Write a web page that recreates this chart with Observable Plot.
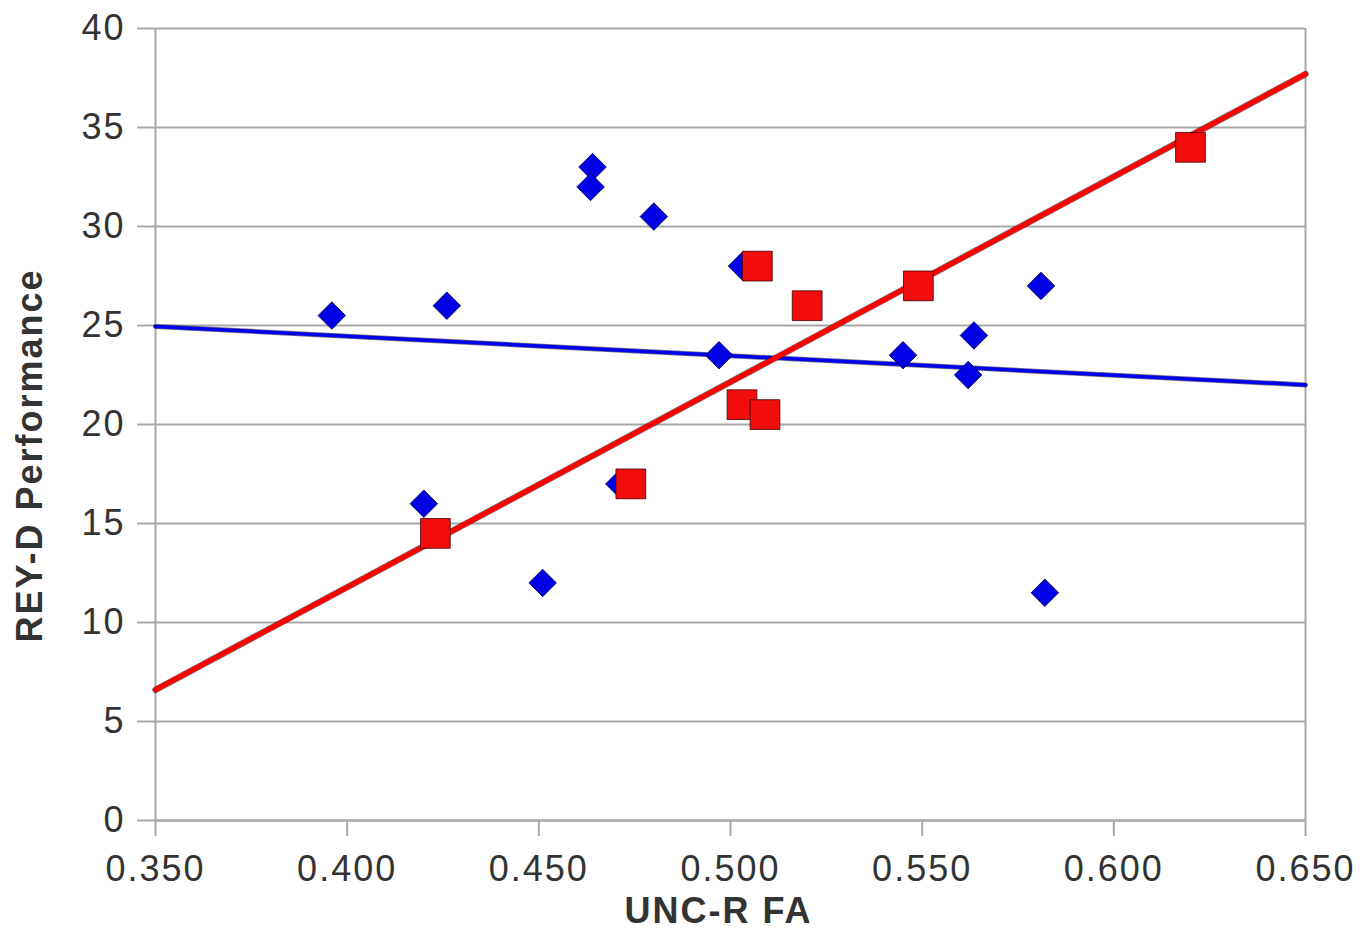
<!DOCTYPE html>
<html>
<head>
<meta charset="utf-8">
<script src="https://cdn.jsdelivr.net/npm/d3@7"></script>
<script src="https://cdn.jsdelivr.net/npm/@observablehq/plot@0.6"></script>
<style>
  html, body { margin: 0; padding: 0; background: #fff; }
  #chart svg { display: block; }
</style>
</head>
<body>
<div id="chart"></div>
<script>
// Blue diamonds
const blueX = [0.396, 0.426, 0.420, 0.451, 0.464, 0.4635, 0.480, 0.503, 0.497, 0.471, 0.545, 0.562, 0.5635, 0.581, 0.582];
const blueY = [25.5, 26.0, 16.0, 12.0, 33.0, 32.0, 30.5, 28.0, 23.5, 17.0, 23.5, 22.5, 24.5, 27.0, 11.5];
// Red squares
const redX = [0.423, 0.474, 0.503, 0.509, 0.507, 0.520, 0.549, 0.620];
const redY = [14.5, 17.0, 21.0, 20.5, 28.0, 26.0, 27.0, 34.0];
// Trend lines (endpoints)
const trendX = [0.35, 0.65];
const blueTrendY = [24.95, 22.0];
const redTrendY = [6.6, 37.7];
// Ticks
const xTicks = [0.35, 0.40, 0.45, 0.50, 0.55, 0.60, 0.65];
const yTicks = [0, 5, 10, 15, 20, 25, 30, 35, 40];
const xTitle = "UNC-R FA";
const yTitle = "REY-D Performance";

const blue = blueX.map((x, i) => ({x, y: blueY[i]}));
const red = redX.map((x, i) => ({x, y: redY[i]}));
const blueTrend = trendX.map((x, i) => ({x, y: blueTrendY[i]}));
const redTrend = trendX.map((x, i) => ({x, y: redTrendY[i]}));

const gridColor = "#a8a8a8";
const textColor = "#333";

const chart = Plot.plot({
  width: 1370,
  height: 940,
  marginLeft: 155,
  marginRight: 65,
  marginTop: 28,
  marginBottom: 120,
  style: {fontFamily: "'Liberation Sans', Arial, sans-serif", background: "#fff", letterSpacing: "2px"},
  x: {domain: [0.35, 0.65]},
  y: {domain: [0, 40]},
  marks: [
    Plot.gridY(yTicks, {stroke: gridColor, strokeOpacity: 1, strokeWidth: 2}),
    Plot.ruleX([0.35, 0.65], {stroke: gridColor, strokeWidth: 2}),
    Plot.ruleY([0], {stroke: gridColor, strokeWidth: 2}),
    Plot.axisY(yTicks, {tickSize: 18, tickPadding: 12, stroke: gridColor, strokeWidth: 2, fill: textColor, fontSize: 36, label: null, tickFormat: d3.format("d")}),
    Plot.axisX(xTicks, {tickSize: 16, tickPadding: 19, stroke: gridColor, strokeWidth: 2, fill: textColor, fontSize: 36, label: null, tickFormat: d3.format(".3f")}),
    Plot.line(blueTrend, {x: "x", y: "y", stroke: "#101030", strokeWidth: 5, strokeOpacity: 0.6}),
    Plot.line(blueTrend, {x: "x", y: "y", stroke: "#0000ee", strokeWidth: 3.5}),
    Plot.line(redTrend, {x: "x", y: "y", stroke: "#301010", strokeWidth: 6.5, strokeOpacity: 0.6}),
    Plot.line(redTrend, {x: "x", y: "y", stroke: "#ff0000", strokeWidth: 5}),
    Plot.dot(blue, {x: "x", y: "y", symbol: "diamond2", r: 12.4, fill: "#0000e6", stroke: "#000040", strokeWidth: 0.8}),
    Plot.dot(red, {x: "x", y: "y", symbol: "square", r: 16.8, fill: "#f20d0d", stroke: "#400000", strokeWidth: 0.8}),
    Plot.text([xTitle], {frameAnchor: "bottom", dx: -12, dy: 102, text: d => d, fontSize: 36, fontWeight: "bold", fill: textColor}),
    Plot.text([yTitle], {frameAnchor: "left", textAnchor: "middle", dx: -125, dy: 31, rotate: -90, text: d => d, fontSize: 36, fontWeight: "bold", fill: textColor})
  ]
});
document.getElementById("chart").appendChild(chart);
</script>
</body>
</html>
